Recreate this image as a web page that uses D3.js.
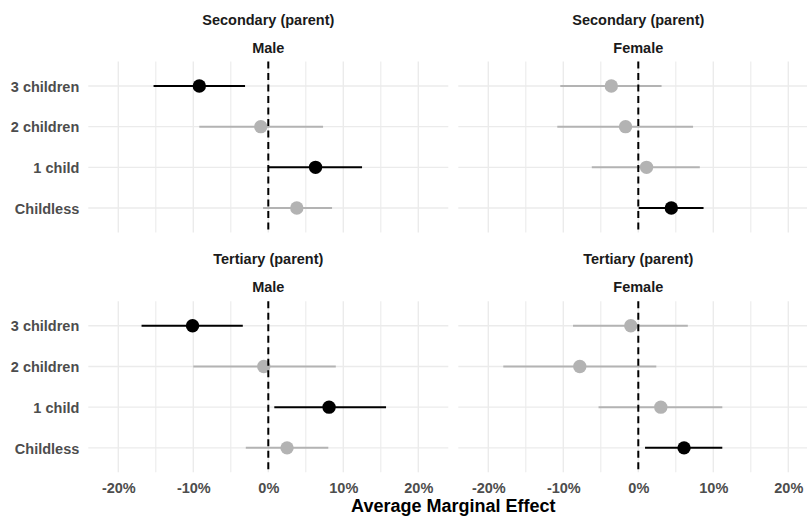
<!DOCTYPE html>
<html>
<head>
<meta charset="utf-8">
<script src="https://cdn.jsdelivr.net/npm/d3@7"></script>
<style>
  html, body { margin: 0; padding: 0; background: #ffffff; }
  svg { display: block; font-family: "Liberation Sans", Arial, sans-serif; }
</style>
</head>
<body>
<div id="chart"></div>
<script>
// Categories and facet labels
const categories = ["3 children", "2 children", "1 child", "Childless"];
const educationLevels = ["Secondary (parent)", "Tertiary (parent)"];
const genders = ["Male", "Female"];
const xTicks = [-20, -10, 0, 10, 20];
const xMinor = [-15, -5, 5, 15];

// Average marginal effects (%) with confidence bounds, ordered as categories
const secMaleEst  = [-9.2, -1.0, 6.3, 3.8];
const secMaleLow  = [-15.3, -9.2, 0.05, -0.7];
const secMaleHigh = [-3.1, 7.3, 12.5, 8.5];

const secFemaleEst  = [-3.6, -1.7, 1.1, 4.4];
const secFemaleLow  = [-10.4, -10.8, -6.2, 0.05];
const secFemaleHigh = [3.1, 7.3, 8.2, 8.7];

const terMaleEst  = [-10.1, -0.6, 8.1, 2.5];
const terMaleLow  = [-16.9, -10.0, 0.8, -3.0];
const terMaleHigh = [-3.4, 9.0, 15.7, 8.0];

const terFemaleEst  = [-1.0, -7.8, 3.0, 6.1];
const terFemaleLow  = [-8.7, -18.0, -5.3, 0.9];
const terFemaleHigh = [6.6, 2.4, 11.2, 11.2];

const panels = [
  { edu: educationLevels[0], gender: genders[0], row: 0, col: 0, est: secMaleEst, low: secMaleLow, high: secMaleHigh },
  { edu: educationLevels[0], gender: genders[1], row: 0, col: 1, est: secFemaleEst, low: secFemaleLow, high: secFemaleHigh },
  { edu: educationLevels[1], gender: genders[0], row: 1, col: 0, est: terMaleEst, low: terMaleLow, high: terMaleHigh },
  { edu: educationLevels[1], gender: genders[1], row: 1, col: 1, est: terFemaleEst, low: terFemaleLow, high: terFemaleHigh }
];

const W = 807, H = 516;
const panelW = 360, panelH = 171;
const panelX = [88.3, 458.3];
const panelY = [61.5, 301.3];
const stripY1 = [25, 264];
const stripY2 = [52.5, 291.5];

const colSig = "#000000", colNs = "#b3b3b3", gridCol = "#ebebeb";

const svg = d3.select("#chart").append("svg")
  .attr("width", W).attr("height", H);

const x = d3.scaleLinear().domain([-24, 24]).range([0, panelW]);
const y = d3.scalePoint().domain(categories).range([0, panelH]).padding(0.6);

panels.forEach(p => {
  const g = svg.append("g")
    .attr("transform", `translate(${panelX[p.col]},${panelY[p.row]})`);

  // grid
  g.append("g").selectAll("line.minor").data(xMinor).join("line")
    .attr("x1", d => x(d)).attr("x2", d => x(d))
    .attr("y1", 0).attr("y2", panelH)
    .attr("stroke", gridCol).attr("stroke-width", 1.1);
  g.append("g").selectAll("line.major").data(xTicks).join("line")
    .attr("x1", d => x(d)).attr("x2", d => x(d))
    .attr("y1", 0).attr("y2", panelH)
    .attr("stroke", gridCol).attr("stroke-width", 1.4);
  g.append("g").selectAll("line.hgrid").data(categories).join("line")
    .attr("x1", 0).attr("x2", panelW)
    .attr("y1", d => y(d)).attr("y2", d => y(d))
    .attr("stroke", gridCol).attr("stroke-width", 1.4);

  const rows = categories.map((c, i) => ({
    cat: c, est: p.est[i], low: p.low[i], high: p.high[i],
    sig: p.low[i] > 0 || p.high[i] < 0
  }));

  // confidence intervals
  g.append("g").selectAll("line").data(rows).join("line")
    .attr("x1", d => x(d.low)).attr("x2", d => x(d.high))
    .attr("y1", d => y(d.cat)).attr("y2", d => y(d.cat))
    .attr("stroke", d => d.sig ? colSig : colNs)
    .attr("stroke-width", 2);

  // point estimates
  g.append("g").selectAll("circle").data(rows).join("circle")
    .attr("cx", d => x(d.est)).attr("cy", d => y(d.cat))
    .attr("r", 6.7)
    .attr("fill", d => d.sig ? colSig : colNs);

  // zero reference
  g.append("line")
    .attr("x1", x(0)).attr("x2", x(0))
    .attr("y1", 0).attr("y2", panelH)
    .attr("stroke", "#000").attr("stroke-width", 2)
    .attr("stroke-dasharray", "7,4.5");

  // strip labels
  const cx = panelX[p.col] + panelW / 2;
  svg.append("text").attr("x", cx).attr("y", stripY1[p.row])
    .attr("text-anchor", "middle").attr("font-weight", "bold")
    .attr("font-size", 14.5).attr("fill", "#1a1a1a").text(p.edu);
  svg.append("text").attr("x", cx).attr("y", stripY2[p.row])
    .attr("text-anchor", "middle").attr("font-weight", "bold")
    .attr("font-size", 14.5).attr("fill", "#1a1a1a").text(p.gender);

  // y axis labels on the left column
  if (p.col === 0) {
    const ya = d3.axisLeft(y).tickSize(0).tickPadding(9);
    const yg = g.append("g").call(ya);
    yg.select(".domain").remove();
    yg.selectAll("text")
      .attr("font-family", "Liberation Sans, Arial, sans-serif")
      .attr("font-weight", "bold").attr("font-size", 14.5)
      .attr("fill", "#4d4d4d").attr("dy", "0.36em");
  }

  // x axis labels on the bottom row
  if (p.row === 1) {
    const xa = d3.axisBottom(x).tickValues(xTicks)
      .tickFormat(d => d + "%").tickSize(0).tickPadding(10);
    const xg = g.append("g").attr("transform", `translate(0,${panelH})`).call(xa);
    xg.select(".domain").remove();
    xg.selectAll("text")
      .attr("font-family", "Liberation Sans, Arial, sans-serif")
      .attr("font-weight", "bold").attr("font-size", 14.5)
      .attr("fill", "#4d4d4d");
  }
});

// x axis title
svg.append("text")
  .attr("x", (panelX[0] + panelX[1] + panelW) / 2)
  .attr("y", 512)
  .attr("text-anchor", "middle").attr("font-weight", "bold")
  .attr("font-size", 18).attr("fill", "#000")
  .text("Average Marginal Effect");
</script>
</body>
</html>
